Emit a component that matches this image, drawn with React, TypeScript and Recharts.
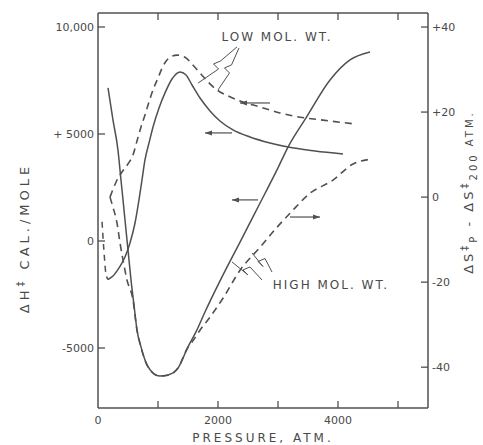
import { LineChart, Line, XAxis, YAxis, ReferenceLine, ReferenceDot } from 'recharts'

const INK = '#505050'
const TXT = '#4a4a4a'
const FONT = '"DejaVu Sans", sans-serif'

// pressure (atm) vs ΔH‡ (cal/mole) — left axis
const lowMolH = [
  { p: 167, v: -1800 }, { p: 250, v: -1640 }, { p: 350, v: -1260 }, { p: 450, v: -750 },
  { p: 533, v: -90 }, { p: 617, v: 840 }, { p: 683, v: 1920 }, { p: 733, v: 2850 },
  { p: 783, v: 3790 }, { p: 850, v: 4580 }, { p: 917, v: 5330 }, { p: 1017, v: 6220 },
  { p: 1117, v: 6920 }, { p: 1233, v: 7570 }, { p: 1367, v: 7900 }, { p: 1467, v: 7760 },
  { p: 1567, v: 7290 }, { p: 1700, v: 6680 }, { p: 1867, v: 6080 }, { p: 2033, v: 5610 },
  { p: 2250, v: 5190 }, { p: 2533, v: 4860 }, { p: 2867, v: 4580 }, { p: 3167, v: 4390 },
  { p: 3617, v: 4210 }, { p: 4083, v: 4070 },
]
const lowMolHExtrap = [
  { p: 67, v: 900 }, { p: 100, v: -500 }, { p: 133, v: -1550 }, { p: 167, v: -1800 },
]
const highMolH = [
  { p: 167, v: 7150 }, { p: 250, v: 5650 }, { p: 333, v: 4250 }, { p: 383, v: 2850 },
  { p: 417, v: 1920 }, { p: 450, v: 980 }, { p: 483, v: 50 }, { p: 517, v: -890 },
  { p: 550, v: -1820 }, { p: 600, v: -2990 }, { p: 650, v: -4160 }, { p: 717, v: -4950 },
  { p: 783, v: -5560 }, { p: 900, v: -6120 }, { p: 1033, v: -6310 }, { p: 1167, v: -6260 },
  { p: 1333, v: -5940 }, { p: 1500, v: -4950 }, { p: 1633, v: -4250 }, { p: 1783, v: -3320 },
  { p: 2067, v: -1680 }, { p: 2367, v: -50 }, { p: 2667, v: 1590 }, { p: 2983, v: 3320 },
  { p: 3167, v: 4390 }, { p: 3467, v: 5750 }, { p: 3867, v: 7520 }, { p: 4200, v: 8460 },
  { p: 4533, v: 8830 },
]

// pressure vs ΔS‡p − ΔS‡200 — right axis
const lowMolS = [
  { p: 200, v: 0 }, { p: 300, v: 3.5 }, { p: 400, v: 5.9 }, { p: 500, v: 7.8 },
  { p: 583, v: 9.9 }, { p: 650, v: 13.2 }, { p: 717, v: 16.5 }, { p: 783, v: 19.3 },
  { p: 850, v: 22.4 }, { p: 917, v: 25.2 }, { p: 1000, v: 28 }, { p: 1083, v: 30.8 },
  { p: 1183, v: 32.7 }, { p: 1317, v: 33.4 }, { p: 1450, v: 32.9 }, { p: 1567, v: 31.3 },
  { p: 1700, v: 29.2 }, { p: 1833, v: 27.1 }, { p: 1983, v: 25.2 }, { p: 2167, v: 23.8 },
  { p: 2367, v: 22.6 }, { p: 2700, v: 21.2 }, { p: 3033, v: 19.8 }, { p: 3367, v: 18.8 },
  { p: 3750, v: 18.1 }, { p: 4283, v: 17.2 },
]
const highMolS = [
  { p: 200, v: 0 }, { p: 250, v: -2.4 }, { p: 317, v: -6.1 }, { p: 367, v: -10.8 },
  { p: 417, v: -14.8 }, { p: 483, v: -19.5 }, { p: 583, v: -24.2 }, { p: 650, v: -31.3 },
  { p: 717, v: -35.3 }, { p: 783, v: -38.4 }, { p: 900, v: -41.2 }, { p: 1033, v: -42.1 },
  { p: 1167, v: -41.9 }, { p: 1333, v: -40.2 }, { p: 1500, v: -35.3 }, { p: 1567, v: -34.1 },
  { p: 1700, v: -31.3 }, { p: 1867, v: -28.2 }, { p: 2083, v: -23.8 }, { p: 2367, v: -17.2 },
  { p: 2700, v: -11.8 }, { p: 2983, v: -7.1 }, { p: 3200, v: -3.8 }, { p: 3533, v: 0.9 },
  { p: 3917, v: 4.0 }, { p: 4250, v: 7.8 }, { p: 4533, v: 8.9 },
]

const pTicks = [0, 1000, 2000, 3000, 4000, 5000]
const pLabels: Record<number, string> = { 0: '0', 2000: '2000', 4000: '4000' }
const hTicks = [-5000, 0, 5000, 10000]
const hLabels: Record<number, string> = { '-5000': '-5000', 0: '0', 5000: '+ 5000', 10000: '10,000' }
const sTicks = [-40, -20, 0, 20, 40]
const sLabels: Record<number, string> = { '-40': '-40', '-20': '-20', 0: '0', 20: '+20', 40: '+40' }

// direction arrows and pointers (pressure, ΔH‡ coordinates)
const arrows = [
  { from: [2233, 5050], to: [1783, 5050] },
  { from: [2867, 6450], to: [2367, 6450] },
  { from: [2667, 1920], to: [2233, 1920] },
  { from: [3200, 1120], to: [3700, 1120] },
]
const pointers = [
  { from: [2317, 9070], to: [1667, 7380] },
  { from: [2350, 9020], to: [2000, 7060] },
  { from: [2733, -1820], to: [2233, -980] },
  { from: [2900, -1450], to: [2567, -560] },
]

const tickText = { fontSize: 11, fill: TXT, fontFamily: FONT }

const LeftTick = ({ x, y, payload }: any) => (
  <g>
    <line x1={x} y1={y} x2={x + 7} y2={y} stroke={INK} strokeWidth={1.3} />
    <text x={x - 4} y={y + 4} textAnchor="end" {...tickText}>{hLabels[payload.value]}</text>
  </g>
)
const RightTick = ({ x, y, payload }: any) => (
  <g>
    <line x1={x - 7} y1={y} x2={x} y2={y} stroke={INK} strokeWidth={1.3} />
    <text x={x + 4} y={y + 4} textAnchor="start" {...tickText}>{sLabels[payload.value]}</text>
  </g>
)
const BottomTick = ({ x, y, payload }: any) => (
  <g>
    {payload.value > 0 && <line x1={x} y1={y} x2={x} y2={y - 7} stroke={INK} strokeWidth={1.3} />}
    <text x={x} y={y + 16} textAnchor="middle" {...tickText}>{pLabels[payload.value] ?? ''}</text>
  </g>
)
const TopTick = ({ x, y, payload }: any) =>
  payload.value > 0 ? <line x1={x} y1={y} x2={x} y2={y + 7} stroke={INK} strokeWidth={1.3} /> : <g />

const ArrowShape = (props: any) => {
  const { x1, y1, x2, y2 } = props
  const dir = x2 > x1 ? 1 : -1
  return (
    <g>
      <line x1={x1} y1={y1} x2={x2} y2={y2} stroke={INK} strokeWidth={1.2} />
      <path d={`M${x2},${y2} L${x2 - dir * 7},${y2 - 2.5} L${x2 - dir * 7},${y2 + 2.5} Z`} fill={INK} />
    </g>
  )
}

const PointerShape = (props: any) => {
  const { x1, y1, x2, y2 } = props
  const mx = (x1 + x2) / 2
  const my = (y1 + y2) / 2
  const d = `M${x1},${y1} L${mx + 3},${my - 4} L${mx - 4},${my - 1} L${mx + 1},${my + 4} L${x2},${y2}`
  return <path d={d} fill="none" stroke={INK} strokeWidth={1} />
}

const LeftLabel = ({ viewBox }: any) => {
  const cx = viewBox.x + 29
  const cy = 238
  return (
    <text transform={`translate(${cx},${cy}) rotate(-90)`} textAnchor="middle" fontSize={13}
      fill={TXT} fontFamily={FONT} letterSpacing={4}>
      ΔH<tspan dy={-5} fontSize={10}>‡</tspan><tspan dy={5}> CAL./MOLE</tspan>
    </text>
  )
}

const RightLabel = ({ viewBox }: any) => {
  const cx = viewBox.x + 45
  const cy = 192
  return (
    <text transform={`translate(${cx},${cy}) rotate(-90)`} textAnchor="middle" fontSize={13}
      fill={TXT} fontFamily={FONT} letterSpacing={3}>
      ΔS<tspan dy={-5} fontSize={10}>‡</tspan><tspan dy={9} fontSize={10}>P</tspan>
      <tspan dy={-4}> - ΔS</tspan><tspan dy={-5} fontSize={10}>‡</tspan>
      <tspan dy={9} fontSize={10}>200</tspan><tspan dy={-4} fontSize={10}> ATM.</tspan>
    </text>
  )
}

const textShape = (label: string) => (props: any) => (
  <text x={props.cx} y={props.cy + 5} textAnchor="middle" fontSize={12} fill={TXT}
    fontFamily={FONT} letterSpacing={2}>{label}</text>
)

export default function App() {
  return (
    <div style={{ position: 'absolute', left: 0, top: 0, background: '#fff' }}>
      <LineChart width={483} height={445} margin={{ top: 12, right: 0, bottom: 0, left: 0 }}>
        <XAxis xAxisId="b" dataKey="p" type="number" domain={[0, 5500]} ticks={pTicks} interval={0}
          allowDataOverflow height={37} tickSize={0} tickMargin={0} tick={<BottomTick />}
          axisLine={{ stroke: INK, strokeWidth: 1.5 }}
          label={{ value: 'PRESSURE, ATM.', position: 'insideBottom', offset: 3, fontSize: 12,
            fill: TXT, fontFamily: FONT, letterSpacing: 3 }} />
        <XAxis xAxisId="t" orientation="top" dataKey="p" type="number" domain={[0, 5500]} ticks={pTicks}
          interval={0} allowDataOverflow height={1} tickSize={0} tickMargin={0} tick={<TopTick />}
          axisLine={{ stroke: INK, strokeWidth: 1.5 }} />
        <YAxis yAxisId="h" type="number" domain={[-7804, 10654]} ticks={hTicks} interval={0}
          allowDataOverflow width={98} tickSize={0} tickMargin={0} tick={<LeftTick />}
          axisLine={{ stroke: INK, strokeWidth: 1.5 }} label={<LeftLabel />} />
        <YAxis yAxisId="s" orientation="right" type="number" domain={[-49.6, 43.3]} ticks={sTicks}
          interval={0} allowDataOverflow width={55} tickSize={0} tickMargin={0} tick={<RightTick />}
          axisLine={{ stroke: INK, strokeWidth: 1.5 }} label={<RightLabel />} />

        <Line data={lowMolHExtrap} xAxisId="b" yAxisId="h" dataKey="v" type="monotone" stroke={INK}
          strokeWidth={1.5} strokeDasharray="6 5" dot={false} isAnimationActive={false} />
        <Line data={lowMolH} xAxisId="b" yAxisId="h" dataKey="v" type="monotone" stroke={INK}
          strokeWidth={1.5} dot={false} isAnimationActive={false} />
        <Line data={highMolH} xAxisId="b" yAxisId="h" dataKey="v" type="monotone" stroke={INK}
          strokeWidth={1.5} dot={false} isAnimationActive={false} />
        <Line data={lowMolS} xAxisId="b" yAxisId="s" dataKey="v" type="monotone" stroke={INK}
          strokeWidth={1.6} strokeDasharray="7 5" dot={false} isAnimationActive={false} />
        <Line data={highMolS} xAxisId="b" yAxisId="s" dataKey="v" type="monotone" stroke={INK}
          strokeWidth={1.6} strokeDasharray="7 5" dot={false} isAnimationActive={false} />

        {arrows.map((a, i) => (
          <ReferenceLine key={`a${i}`} xAxisId="b" yAxisId="h" ifOverflow="visible"
            segment={[{ x: a.from[0], y: a.from[1] }, { x: a.to[0], y: a.to[1] }]} shape={ArrowShape} />
        ))}
        {pointers.map((a, i) => (
          <ReferenceLine key={`p${i}`} xAxisId="b" yAxisId="h" ifOverflow="visible"
            segment={[{ x: a.from[0], y: a.from[1] }, { x: a.to[0], y: a.to[1] }]} shape={PointerShape} />
        ))}
        <ReferenceDot xAxisId="b" yAxisId="h" x={2983} y={9580} r={0} ifOverflow="visible"
          shape={textShape('LOW MOL. WT.')} />
        <ReferenceDot xAxisId="b" yAxisId="h" x={3883} y={-2010} r={0} ifOverflow="visible"
          shape={textShape('HIGH MOL. WT.')} />
      </LineChart>
    </div>
  )
}
